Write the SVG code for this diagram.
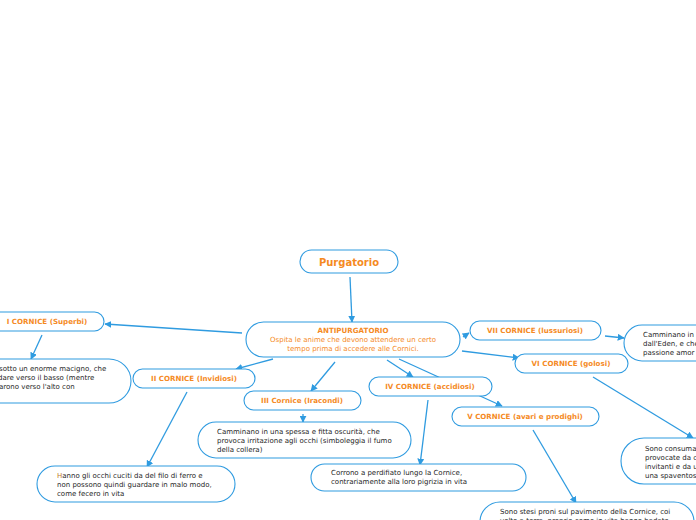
<svg xmlns="http://www.w3.org/2000/svg" width="696" height="520" viewBox="0 0 696 520">
<style>
.n{fill:#fff;stroke:#2f9be0;stroke-width:1.1}
.t{font-family:"DejaVu Sans",Verdana,sans-serif;font-size:7px;fill:#262626}
.h{font-family:"DejaVu Sans",Verdana,sans-serif;font-size:7.1px;font-weight:bold;fill:#f58a1f;text-anchor:middle}
.c{stroke:#2f9be0;stroke-width:1.3;fill:none;marker-end:url(#a)}
</style>
<defs>
<marker id="a" viewBox="0 0 10 10" refX="9" refY="5" markerWidth="7" markerHeight="7" markerUnits="userSpaceOnUse" orient="auto">
<path d="M0,0L10,5L0,10z" fill="#2f9be0"/>
</marker>
</defs>
<g id="connectors">
<line class="c" x1="350" y1="277" x2="352" y2="322"/>
<line class="c" x1="242" y1="333" x2="105" y2="324"/>
<line class="c" x1="42" y1="335" x2="31" y2="359"/>
<line class="c" x1="273" y1="359" x2="236" y2="369"/>
<line class="c" x1="187" y1="392" x2="147" y2="467"/>
<line class="c" x1="335" y1="362" x2="311" y2="391"/>
<line class="c" x1="303" y1="414" x2="303" y2="422"/>
<line class="c" x1="387" y1="360" x2="413" y2="377"/>
<line class="c" x1="399" y1="359" x2="502" y2="406"/>
<line class="c" x1="428" y1="400" x2="420" y2="465"/>
<line class="c" x1="533" y1="430" x2="576" y2="503"/>
<line class="c" x1="463" y1="337" x2="469" y2="333"/>
<line class="c" x1="605" y1="336" x2="624" y2="338"/>
<line class="c" x1="462" y1="351" x2="519" y2="358"/>
<line class="c" x1="593" y1="377" x2="693" y2="438"/>
</g>
<g id="purgatorio">
<rect class="n" x="300" y="250" width="98" height="23" rx="11.5"/>
<text class="h" x="349" y="266" style="font-size:10px">Purgatorio</text>
</g>
<g id="antipurgatorio">
<rect class="n" x="246" y="322" width="214" height="35" rx="17.5"/>
<text class="h" x="353" y="333">ANTIPURGATORIO</text>
<text class="h" x="353" y="342" style="font-weight:normal;font-size:7px">Ospita le anime che devono attendere un certo</text>
<text class="h" x="353" y="351" style="font-weight:normal;font-size:7px">tempo prima di accedere alle Cornici.</text>
</g>
<g id="cornice1">
<rect class="n" x="-10" y="312" width="114" height="19" rx="9.5"/>
<text class="h" x="47" y="324">I CORNICE (Superbi)</text>
</g>
<g id="cornice1-desc">
<rect class="n" x="-40" y="359" width="171" height="44" rx="22"/>
<text class="t" x="-1" y="371">sotto un enorme macigno, che</text>
<text class="t" x="-2" y="380">dare verso il basso (mentre</text>
<text class="t" x="-1" y="389">arono verso l'alto con</text>
</g>
<g id="cornice2">
<rect class="n" x="133" y="369" width="122" height="19" rx="9.5"/>
<text class="h" x="194" y="381">II CORNICE (Invidiosi)</text>
</g>
<g id="cornice2-desc">
<rect class="n" x="37" y="466" width="198" height="36" rx="18"/>
<text class="t" x="57" y="478"><tspan fill="#c07a2a">H</tspan>anno gli occhi cuciti da del filo di ferro e</text>
<text class="t" x="57" y="487">non possono quindi guardare in malo modo,</text>
<text class="t" x="57" y="496">come fecero in vita</text>
</g>
<g id="cornice3">
<rect class="n" x="244" y="391" width="117" height="19" rx="9.5"/>
<text class="h" x="302" y="403">III Cornice (Iracondi)</text>
</g>
<g id="cornice3-desc">
<rect class="n" x="198" y="422" width="213" height="36" rx="18"/>
<text class="t" x="217" y="434">Camminano in una spessa e fitta oscurità, che</text>
<text class="t" x="217" y="443">provoca irritazione agli occhi (simboleggia il fumo</text>
<text class="t" x="217" y="452">della collera)</text>
</g>
<g id="cornice4">
<rect class="n" x="369" y="377" width="123" height="19" rx="9.5"/>
<text class="h" x="430" y="389">IV CORNICE (accidiosi)</text>
</g>
<g id="cornice4-desc">
<rect class="n" x="311" y="464" width="215" height="27" rx="13.5"/>
<text class="t" x="331" y="475">Corrono a perdifiato lungo la Cornice,</text>
<text class="t" x="331" y="484">contrariamente alla loro pigrizia in vita</text>
</g>
<g id="cornice5">
<rect class="n" x="452" y="407" width="147" height="19" rx="9.5"/>
<text class="h" x="525" y="419">V CORNICE (avari e prodighi)</text>
</g>
<g id="cornice5-desc">
<rect class="n" x="480" y="502" width="214" height="40" rx="20"/>
<text class="t" x="500" y="514">Sono stesi proni sul pavimento della Cornice, coi</text>
<text class="t" x="500" y="523">volto a terra, proprio come in vita hanno badato</text>
</g>
<g id="cornice7">
<rect class="n" x="470" y="321" width="131" height="19" rx="9.5"/>
<text class="h" x="535" y="333">VII CORNICE (lussuriosi)</text>
</g>
<g id="cornice7-desc">
<rect class="n" x="624" y="325" width="100" height="36" rx="18"/>
<text class="t" x="643" y="337">Camminano in</text>
<text class="t" x="643" y="346">dall'Eden, e che</text>
<text class="t" x="643" y="355">passione amor</text>
</g>
<g id="cornice6">
<rect class="n" x="515" y="354" width="113" height="19" rx="9.5"/>
<text class="h" x="571" y="366">VI CORNICE (golosi)</text>
</g>
<g id="cornice6-desc">
<rect class="n" x="621" y="438" width="100" height="46" rx="23"/>
<text class="t" x="645" y="451">Sono consuma</text>
<text class="t" x="645" y="460">provocate da c</text>
<text class="t" x="645" y="469">invitanti e da u</text>
<text class="t" x="645" y="478">una spaventos</text>
</g>
</svg>
